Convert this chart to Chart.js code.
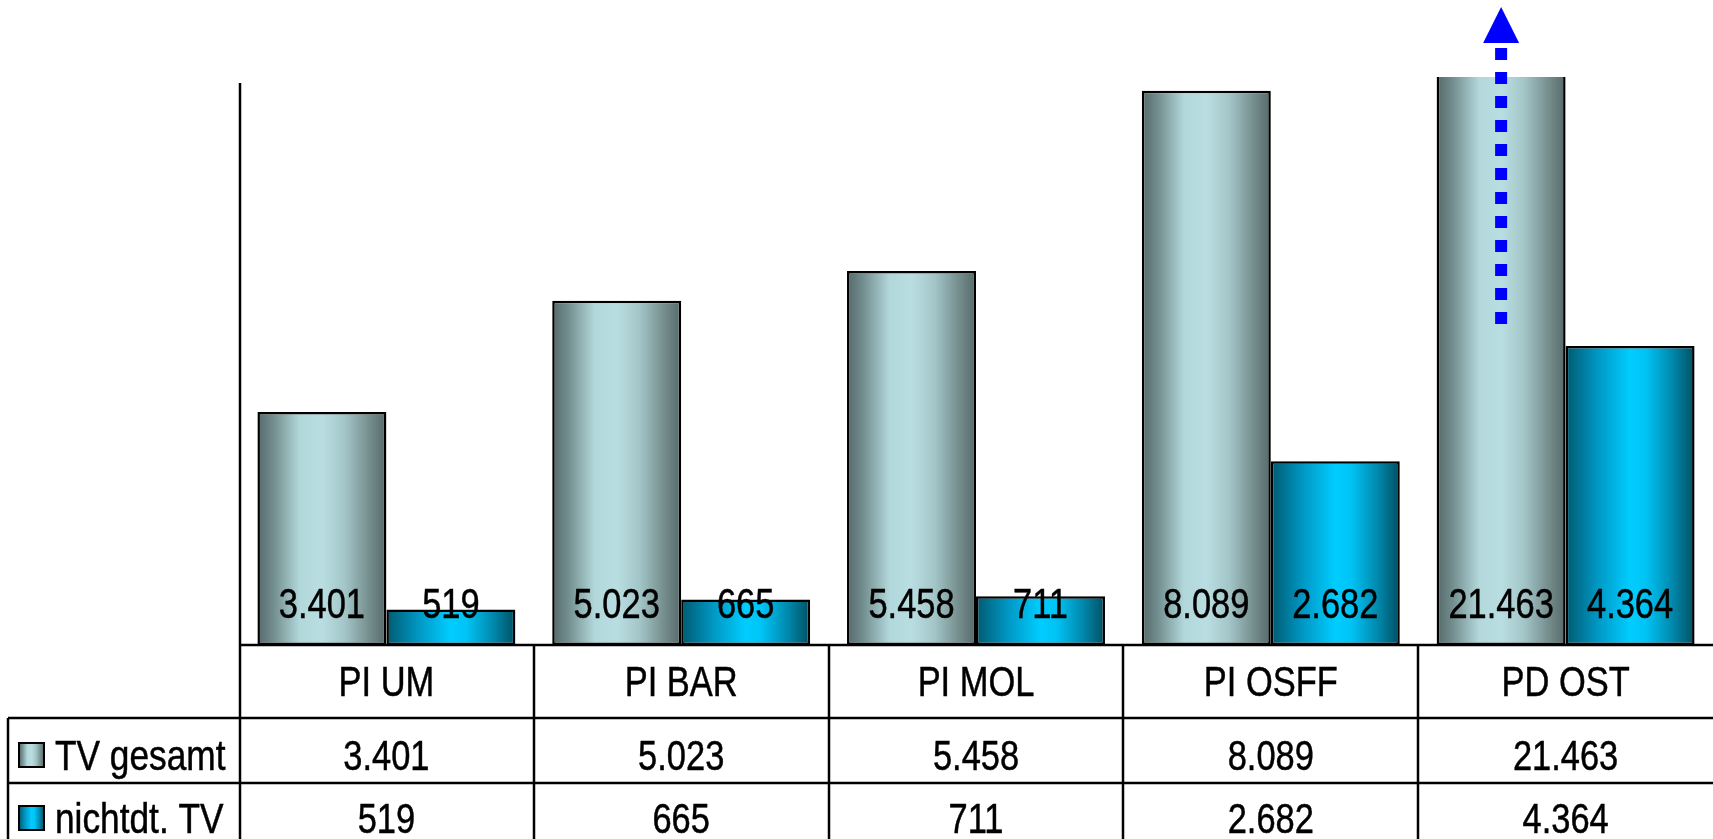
<!DOCTYPE html>
<html>
<head>
<meta charset="utf-8">
<script src="https://cdn.jsdelivr.net/npm/chart.js@4.4.1/dist/chart.umd.min.js"></script>
<style>
    html, body { margin: 0; padding: 0; background: #fff; overflow: hidden; }
    #wrap { width: 1713px; height: 839px; position: relative; }
</style>
</head>
<body>
<div id="wrap"><canvas id="chart"></canvas></div>
<script>
// --------------------------------- Data ---------------------------------
const categories = ["PI UM", "PI BAR", "PI MOL", "PI OSFF", "PD OST"];
const seriesNames = ["TV gesamt", "nichtdt. TV"];
const tvGesamt = [3401, 5023, 5458, 8089, 21463];
const nichtdtTV = [519, 665, 711, 2682, 4364];
const axisMax = 8290; // the PD OST bar runs off the top, as in the original

// Gradient stops for the "cylinder" look of each series
const gesamtStops = [[0, "#56696a"], [0.12, "#718c8d"], [0.33, "#b3d8db"], [0.5, "#b9dee1"],
                     [0.68, "#a3c5c8"], [0.86, "#77908f"], [1, "#56696a"]];
const nichtdtStops = [[0, "#005a70"], [0.25, "#0098c4"], [0.5, "#00cdff"], [0.62, "#00c4f5"],
                      [0.82, "#008bb0"], [1, "#004f63"]];

const CAT_PCT = 0.875;
const FONT = '"Liberation Sans", Arial, sans-serif';

// German number format: 21463 -> "21.463"
function fmt(v) {
    return String(v).replace(/\B(?=(\d{3})+(?!\d))/g, ".");
}

// Arial Narrow look: draw regular sans squeezed horizontally
function narrowText(ctx, text, x, yCenter, size, align) {
    ctx.save();
    ctx.translate(x, yCenter + size * 0.358);
    ctx.scale(0.82, 1);
    ctx.font = size + "px " + FONT;
    ctx.textAlign = align;
    ctx.textBaseline = "alphabetic";
    ctx.fillStyle = "#000";
    ctx.strokeStyle = "#000";
    ctx.lineWidth = 0.5;
    ctx.fillText(text, 0, 0);
    ctx.strokeText(text, 0, 0);
    ctx.restore();
}

function makeGradient(ctx, left, width, stops) {
    const g = ctx.createLinearGradient(left, 0, left + width, 0);
    stops.forEach((s) => g.addColorStop(s[0], s[1]));
    return g;
}

function barFill(stops) {
    return (c) => {
        const chart = c.chart;
        const area = chart.chartArea;
        if (!area || c.type !== "data") return stops[3][1];
        const x = chart.scales.x.getPixelForValue(c.dataIndex);
        const catW = (area.right - area.left) / categories.length;
        const barW = (catW * CAT_PCT) / 2;
        const left = c.datasetIndex === 0 ? x - barW : x;
        return makeGradient(chart.ctx, left, barW, stops);
    };
}

// --------------------------------- Table / labels plugin ---------------------------------
const tablePlugin = {
    id: "dataTable",
    afterDatasetsDraw(chart) {
        const ctx = chart.ctx;
        const area = chart.chartArea;
        const xs = chart.scales.x;
        const catW = (area.right - area.left) / categories.length;
        const series = [tvGesamt, nichtdtTV];

        // value labels inside the base of each bar
        series.forEach((vals, di) => {
            const meta = chart.getDatasetMeta(di);
            meta.data.forEach((bar, i) => {
                narrowText(ctx, fmt(vals[i]), bar.x, area.bottom - 42, 42, "center");
            });
        });

        // arrow on the clipped PD OST bar
        const big = chart.getDatasetMeta(0).data[4];
        ctx.save();
        ctx.strokeStyle = "#0000ff";
        ctx.fillStyle = "#0000ff";
        ctx.lineWidth = 12;
        ctx.setLineDash([12, 12]);
        ctx.beginPath();
        ctx.moveTo(big.x, area.top + 247);
        ctx.lineTo(big.x, area.top - 29);
        ctx.stroke();
        ctx.setLineDash([]);
        ctx.beginPath();
        ctx.moveTo(big.x, area.top - 70);
        ctx.lineTo(big.x - 18, area.top - 34);
        ctx.lineTo(big.x + 18, area.top - 34);
        ctx.closePath();
        ctx.fill();
        ctx.restore();

        // grid of the data table
        const H = chart.height;
        const rowTop1 = area.bottom + 73;
        const rowTop2 = rowTop1 + 65;
        ctx.save();
        ctx.strokeStyle = "#000";
        ctx.lineWidth = 2.5;
        ctx.beginPath();
        // value axis line, continues down as the first table column border
        ctx.moveTo(area.left + 1, area.top + 6);
        ctx.lineTo(area.left + 1, H);
        // category axis line
        ctx.moveTo(area.left, area.bottom);
        ctx.lineTo(area.right, area.bottom);
        // row lines
        ctx.moveTo(8, rowTop1);
        ctx.lineTo(area.right, rowTop1);
        ctx.moveTo(8, rowTop2);
        ctx.lineTo(area.right, rowTop2);
        // left border of the series column
        ctx.moveTo(8, rowTop1);
        ctx.lineTo(8, H);
        // column dividers
        for (let i = 1; i < categories.length; i++) {
            const bx = Math.round(area.left + catW * i);
            ctx.moveTo(bx, area.bottom);
            ctx.lineTo(bx, H);
        }
        ctx.stroke();
        ctx.restore();

        // header row: category names
        categories.forEach((cat, i) => {
            narrowText(ctx, cat, xs.getPixelForValue(i), area.bottom + 36, 42, "center");
        });

        // value rows with legend keys
        const rowCenters = [rowTop1 + 37, rowTop2 + 35];
        const keyStops = [gesamtStops, nichtdtStops];
        series.forEach((vals, di) => {
            const cy = rowCenters[di];
            ctx.save();
            ctx.fillStyle = makeGradient(ctx, 19, 25, keyStops[di]);
            ctx.fillRect(19, cy - 12, 25, 24);
            ctx.strokeStyle = "#000";
            ctx.lineWidth = 2;
            ctx.strokeRect(19, cy - 12, 25, 24);
            ctx.restore();
            narrowText(ctx, seriesNames[di], 55, cy, 43, "left");
            vals.forEach((v, i) => {
                narrowText(ctx, fmt(v), xs.getPixelForValue(i), cy, 42, "center");
            });
        });
    },
};

// --------------------------------- Chart ---------------------------------
new Chart("chart", {
    type: "bar",
    data: {
        labels: categories,
        datasets: [
            {
                label: seriesNames[0],
                data: tvGesamt,
                backgroundColor: barFill(gesamtStops),
                borderColor: "#000",
                borderWidth: 2.5,
                borderSkipped: false,
            },
            {
                label: seriesNames[1],
                data: nichtdtTV,
                backgroundColor: barFill(nichtdtStops),
                borderColor: "#000",
                borderWidth: 2.5,
                borderSkipped: false,
            },
        ],
    },
    options: {
        responsive: true,
        maintainAspectRatio: false,
        animation: false,
        layout: { padding: { left: 239, right: 0, top: 77, bottom: 194 } },
        datasets: { bar: { categoryPercentage: CAT_PCT, barPercentage: 1 } },
        scales: {
            x: { display: false },
            y: { display: false, min: 0, max: axisMax },
        },
        plugins: {
            legend: { display: false },
            tooltip: { enabled: false },
        },
    },
    plugins: [tablePlugin],
});
</script>
</body>
</html>
